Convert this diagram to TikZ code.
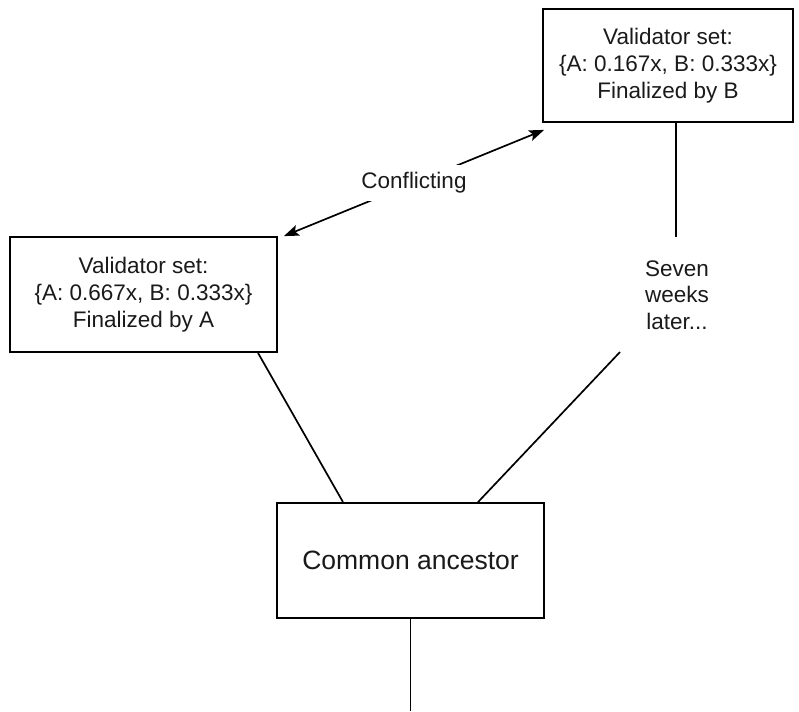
\documentclass[tikz,border=0pt]{standalone}
\usepackage{fontspec}
\setmainfont{Liberation Sans}
\usetikzlibrary{arrows.meta}
\definecolor{txt}{HTML}{1A1A1A}
\tikzset{
  box/.style={draw=black, line width=1.8pt, fill=white, align=center, text=txt,
    inner sep=0pt, font=\fontsize{22.5}{26.7}\selectfont},
  bigbox/.style={box, font=\fontsize{26.5}{31}\selectfont},
  conn/.style={draw=black, line width=1.7pt},
  dbl/.style={conn, {Stealth[length=15pt,width=11pt,inset=3pt]}-{Stealth[length=15pt,width=11pt,inset=3pt]}},
  lbl/.style={fill=white, align=center, text=txt, inner xsep=1pt, inner ysep=8pt,
    font=\fontsize{22.5}{26.7}\selectfont}
}
\begin{document}
\begin{tikzpicture}[x=1pt,y=-1pt]
\useasboundingbox (0,0) rectangle (799,711);
\node[box, minimum width=250pt, minimum height=113pt] (B) at (668,65.5)
  {Validator set:\\\{A: 0.167x, B: 0.333x\}\\Finalized by B};
\node[box, minimum width=267pt, minimum height=115pt] (A) at (143.5,294.5)
  {Validator set:\\\{A: 0.667x, B: 0.333x\}\\Finalized by A};
\node[bigbox, minimum width=267pt, minimum height=115pt] (C) at (410.5,560.5)
  {Common ancestor};
\node[lbl, inner ysep=0pt] (S) at (677,295) {Seven\\weeks\\later...};
\coordinate (s1) at (676,237);
\coordinate (s2) at (620,352);
\coordinate (bot) at (410.5,711);
% connectors
\draw[conn] (B.south -| s1) -- (s1);
\draw[conn] (s2) -- ([xshift=67.5pt]C.north);
\draw[conn] ([xshift=114.5pt]A.south) -- ([xshift=-67.5pt]C.north);
\draw[conn] (C.south) -- (bot);
\draw[dbl] ([xshift=6pt]A.north east) -- ([xshift=2pt,yshift=-7pt]B.south west)
  node[lbl, pos=0.5] (L) {Conflicting};
\end{tikzpicture}
\end{document}
